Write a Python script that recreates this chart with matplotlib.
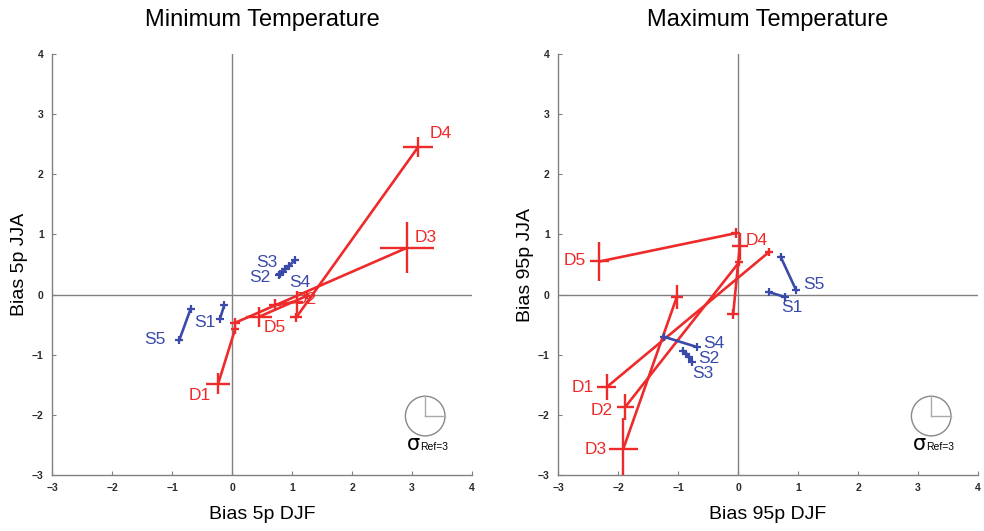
import matplotlib
matplotlib.use("Agg")
import matplotlib.pyplot as plt
from matplotlib.patches import Circle

plt.rcParams['font.family'] = ['Liberation Sans', 'DejaVu Sans']

RED = '#ee2a2a'
BLUE = '#3a4aa8'
GRAY = '#808080'

titles = ["Minimum Temperature", "Maximum Temperature"]
xlabels = ["Bias 5p DJF", "Bias 95p DJF"]
ylabels = ["Bias 5p JJA", "Bias 95p JJA"]
ticks = [-3, -2, -1, 0, 1, 2, 3, 4]

# Each D model: two points (x, y) with cross half-sizes (sx, sy)
min_D_names = ["D1", "D2", "D3", "D4", "D5"]
min_D_x = [[-0.23, 0.05], [1.08, 0.72], [2.92, 0.05], [3.10, 1.07], [0.45, 1.25]]
min_D_y = [[-1.48, -0.58], [-0.12, -0.17], [0.78, -0.47], [2.45, -0.38], [-0.37, -0.02]]
min_D_sx = [[0.20, 0.06], [0.10, 0.10], [0.45, 0.08], [0.25, 0.10], [0.22, 0.06]]
min_D_sy = [[0.17, 0.08], [0.18, 0.10], [0.42, 0.08], [0.17, 0.08], [0.17, 0.06]]
min_D_lab = [(-0.53, -1.67), (1.22, -0.08), (3.22, 0.95), (3.47, 2.67), (0.72, -0.55)]

min_S_names = ["S1", "S2", "S3", "S4", "S5"]
min_S_x = [[-0.13, -0.20], [0.78, 0.88], [0.80, 1.05], [0.85, 0.95], [-0.69, -0.88]]
min_S_y = [[-0.18, -0.40], [0.33, 0.42], [0.35, 0.57], [0.38, 0.48], [-0.24, -0.76]]
min_S_lab = [(-0.45, -0.47), (0.47, 0.28), (0.58, 0.53), (1.13, 0.20), (-1.28, -0.75)]

max_D_names = ["D1", "D2", "D3", "D4", "D5"]
max_D_x = [[-2.19, 0.52], [-1.88, 0.02], [-1.91, -1.02], [0.03, -0.08], [-2.31, -0.04]]
max_D_y = [[-1.54, 0.71], [-1.87, 0.54], [-2.56, -0.04], [0.80, -0.32], [0.55, 1.02]]
max_D_sx = [[0.16, 0.07], [0.14, 0.07], [0.24, 0.10], [0.13, 0.10], [0.16, 0.08]]
max_D_sy = [[0.22, 0.07], [0.22, 0.07], [0.50, 0.20], [0.22, 0.08], [0.33, 0.08]]
max_D_lab = [(-2.58, -1.54), (-2.27, -1.93), (-2.38, -2.57), (0.31, 0.90), (-2.72, 0.57)]

max_S_names = ["S1", "S2", "S3", "S4", "S5"]
max_S_x = [[0.52, 0.78], [-0.92, -0.82], [-0.86, -0.76], [-1.24, -0.69], [0.71, 0.97]]
max_S_y = [[0.04, -0.04], [-0.93, -1.03], [-0.98, -1.12], [-0.70, -0.87], [0.63, 0.07]]
max_S_lab = [(0.90, -0.21), (-0.49, -1.07), (-0.58, -1.32), (-0.41, -0.82), (1.26, 0.16)]

panels = [
    (min_D_names, min_D_x, min_D_y, min_D_sx, min_D_sy, min_D_lab,
     min_S_names, min_S_x, min_S_y, min_S_lab),
    (max_D_names, max_D_x, max_D_y, max_D_sx, max_D_sy, max_D_lab,
     max_S_names, max_S_x, max_S_y, max_S_lab),
]

fig = plt.figure(figsize=(9.84, 5.31), dpi=100)
lefts = [52 / 984, 558 / 984]
for k, (dn, dx, dy, dsx, dsy, dlab, sn, sx, sy, slab) in enumerate(panels):
    ax = fig.add_axes([lefts[k], 56 / 531, 420 / 984, 421 / 531])
    ax.set_xlim(-3, 4)
    ax.set_ylim(-3, 4)
    for s in ['top', 'right']:
        ax.spines[s].set_visible(False)
    for s in ['left', 'bottom']:
        ax.spines[s].set_color(GRAY)
        ax.spines[s].set_linewidth(1.0)
    ax.set_xticks(ticks)
    ax.set_yticks(ticks)
    ax.tick_params(direction='in', length=3, width=0.8, color=GRAY,
                   labelsize=7.5, pad=6)
    for lab in ax.get_xticklabels() + ax.get_yticklabels():
        lab.set_fontweight('bold')
        lab.set_color('#2a2a2a')
    ax.axhline(0, color=GRAY, lw=1.0, zorder=1)
    ax.axvline(0, color=GRAY, lw=1.0, zorder=1)
    ax.set_title(titles[k], fontsize=17, pad=20)
    ax.set_xlabel(xlabels[k], fontsize=14, labelpad=9)
    ax.set_ylabel(ylabels[k], fontsize=14, labelpad=3)

    for i in range(len(dn)):
        ax.plot(dx[i], dy[i], color=RED, lw=1.9, zorder=3)
        ax.errorbar(dx[i], dy[i], xerr=dsx[i], yerr=dsy[i], fmt='none',
                    ecolor=RED, elinewidth=1.7, capsize=0, zorder=3)
        ax.text(dlab[i][0], dlab[i][1], dn[i], color=RED, fontsize=12.5,
                ha='center', va='center', zorder=4)
    for i in range(len(sn)):
        ax.plot(sx[i], sy[i], color=BLUE, lw=1.9, marker='+', ms=6,
                mew=1.6, zorder=3)
        ax.text(slab[i][0], slab[i][1], sn[i], color=BLUE, fontsize=12.5,
                ha='center', va='center', zorder=4)

    # reference sigma circle
    cx, cy, r = 3.22, -2.02, 0.33
    ax.add_patch(Circle((cx, cy), r, fill=False, ec='#888888', lw=1.0))
    ax.plot([cx, cx], [cy, cy + r], color='#aaaaaa', lw=1.0)
    ax.plot([cx, cx + r], [cy, cy], color='#aaaaaa', lw=1.0)
    ax.text(cx - 0.08, cy - 0.56, "σ", fontsize=15, ha='right', va='baseline',
            family=['DejaVu Sans'])
    ax.text(cx - 0.08, cy - 0.56, "Ref=3", fontsize=7.5, ha='left',
            va='baseline')

fig.savefig("out.png", dpi=100)
